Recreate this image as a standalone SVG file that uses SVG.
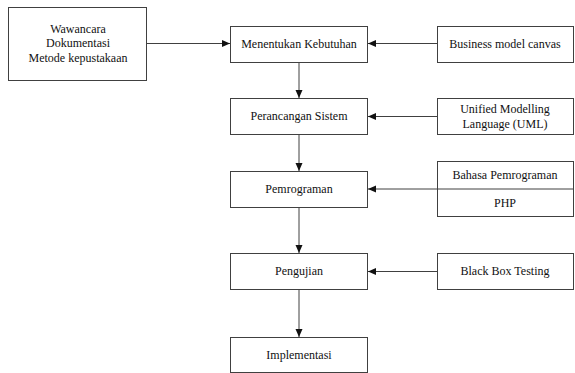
<svg xmlns="http://www.w3.org/2000/svg" width="575" height="373" viewBox="0 0 575 373">
<style>
.box{fill:#fff;stroke:#404040;stroke-width:1}
.t{font-family:"Liberation Serif","Times New Roman",serif;font-size:12px;fill:#111;text-anchor:middle}
.c{stroke:#404040;stroke-width:1;fill:none;marker-end:url(#ah)}
</style>
<defs>
<marker id="ah" markerWidth="8" markerHeight="8" refX="8" refY="4" orient="auto" markerUnits="userSpaceOnUse">
<path d="M0,0.5 L8,4 L0,7.5 Z" fill="#111"/>
</marker>
</defs>
<rect width="575" height="373" fill="#fff"/>
<g id="connectors">
<path class="c" d="M147,43.5 H230"/>
<path class="c" d="M437,43.5 H368"/>
<path class="c" d="M299,62 V98"/>
<path class="c" d="M437,116.5 H368"/>
<path class="c" d="M299,134 V171"/>
<path class="c" d="M437,189 H368"/>
<path class="c" d="M299,207 V253"/>
<path class="c" d="M437,271.5 H368"/>
<path class="c" d="M299,290 V337"/>
</g>
<g id="n-sources">
<rect class="box" x="8.5" y="7.5" width="138" height="73"/>
<text class="t" x="78" y="33">Wawancara</text>
<text class="t" x="78" y="47">Dokumentasi</text>
<text class="t" x="78" y="62">Metode kepustakaan</text>
</g>
<g id="n-kebutuhan">
<rect class="box" x="230.5" y="26.5" width="137" height="36"/>
<text class="t" x="299" y="48">Menentukan Kebutuhan</text>
</g>
<g id="n-bmc">
<rect class="box" x="437.5" y="26.5" width="136" height="36"/>
<text class="t" x="505" y="48">Business model canvas</text>
</g>
<g id="n-perancangan">
<rect class="box" x="230.5" y="98.5" width="137" height="36"/>
<text class="t" x="299" y="120">Perancangan Sistem</text>
</g>
<g id="n-uml">
<rect class="box" x="437.5" y="98.5" width="136" height="36"/>
<text class="t" x="505" y="113">Unified Modelling</text>
<text class="t" x="505" y="128">Language (UML)</text>
</g>
<g id="n-pemrograman">
<rect class="box" x="230.5" y="171.5" width="137" height="36"/>
<text class="t" x="299" y="193">Pemrograman</text>
</g>
<g id="n-bahasa">
<rect class="box" x="437.5" y="161.5" width="136" height="55"/>
<line x1="437.5" y1="189" x2="573.5" y2="189" stroke="#404040"/>
<text class="t" x="505" y="179">Bahasa Pemrograman</text>
<text class="t" x="505" y="207">PHP</text>
</g>
<g id="n-pengujian">
<rect class="box" x="230.5" y="253.5" width="137" height="36"/>
<text class="t" x="299" y="275">Pengujian</text>
</g>
<g id="n-blackbox">
<rect class="box" x="437.5" y="253.5" width="136" height="36"/>
<text class="t" x="505" y="275">Black Box Testing</text>
</g>
<g id="n-implementasi">
<rect class="box" x="230.5" y="337.5" width="137" height="35"/>
<text class="t" x="299" y="359">Implementasi</text>
</g>
</svg>
